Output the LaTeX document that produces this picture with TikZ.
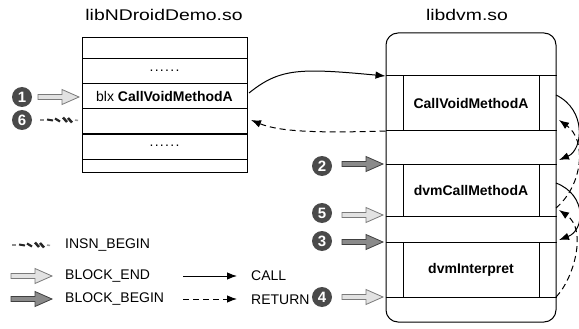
\documentclass[tikz,border=0pt]{standalone}
\usepackage{fontspec}
\setmainfont{Liberation Sans}
\newfontfamily\titlefont[FakeStretch=1.25]{Liberation Sans}
\usetikzlibrary{arrows.meta}
\definecolor{numgray}{HTML}{4A4A4A}
\definecolor{endfill}{HTML}{E2E2E2}
\definecolor{endline}{HTML}{7A7A7A}
\definecolor{beginfill}{HTML}{8A8A8A}
\definecolor{beginline}{HTML}{404040}
\tikzset{
  lbl/.style={font=\fontsize{14}{16}\selectfont, inner sep=0pt},
  titlelbl/.style={font=\titlefont\fontsize{15.5}{18}\selectfont, inner sep=0pt, anchor=base},
  rowbox/.style={draw, line width=1pt, minimum width=165pt, inner sep=0pt, outer sep=0pt},
  blk/.style={draw, line width=1pt, minimum width=136pt, inner sep=0pt, outer sep=0pt, font=\fontsize{14}{16}\selectfont\bfseries},
  num/.style={circle, fill=numgray, text=white, minimum size=20pt, inner sep=0pt, font=\fontsize{15}{16}\selectfont\bfseries},
  callarr/.style={line width=1pt, -{Latex[length=10pt,width=7.5pt]}},
  retarr/.style={line width=1pt, dash pattern=on 6pt off 4pt, -{Latex[length=10pt,width=7.5pt]}},
  blockarr/.pic={
    \path[pic actions] (0,-2.5) -- (24,-2.5) -- (24,-7.5) -- (41,0) -- (24,7.5) -- (24,2.5) -- (0,2.5) -- cycle;
  },
  squig/.pic={
    \draw[line width=1.5pt, black!45] (0,0) -- (4,0);
    \draw[line width=2pt, black!85] (7,-0.5) -- (13,0.5);
    \draw[line width=2.2pt, black!85] (15,-1.5) -- (20,1.5);
    \draw[line width=2.5pt, black!85] (23,-2.5) -- (27,2);
    \draw[line width=2.5pt, black!85] (28,-2) -- (32,2.5);
    \draw[line width=1.5pt, black!40] (35,0) -- (38,0.5);
  },
  endarrow/.style={draw=endline, fill=endfill, line width=0.8pt},
  beginarrow/.style={draw=beginline, fill=beginfill, line width=0.8pt}
}
\begin{document}
\begin{tikzpicture}[x=1pt,y=-1pt]
\useasboundingbox[fill=white] (0,0) rectangle (579,329);

% titles
\node[titlelbl] (t1) at (164,21) {libNDroidDemo.so};
\node[titlelbl] (t2) at (467,21) {libdvm.so};

% left box rows
\node[rowbox, minimum height=21pt] (r1) at (164.5,48.5) {};
\node[rowbox, minimum height=25pt] (r2) at (164.5,71.5) {};
\node[rowbox, minimum height=25pt] (r3) at (164.5,96.5) {};
\node[rowbox, minimum height=25pt] (r4) at (164.5,121.5) {};
\node[rowbox, minimum height=25pt] (r5) at (164.5,146.5) {};
\node[rowbox, minimum height=13pt] (r6) at (164.5,165.5) {};
\node[lbl] (d1) at (164.5,71) {.\kern1.3pt.\kern1.3pt.\kern1.3pt.\kern1.3pt.\kern1.3pt.};
\node[lbl] (d2) at (164.5,146) {.\kern1.3pt.\kern1.3pt.\kern1.3pt.\kern1.3pt.\kern1.3pt.};
\node[lbl] (blx) at (164.5,96.5) {blx \textbf{CallVoidMethodA}};

% right box
\node[draw, line width=1pt, rounded corners=12pt, minimum width=170pt, minimum height=289pt, inner sep=0pt] (dvm) at (471,177.5) {};
\node[blk, minimum height=55pt] (b1) at (471,103.5) {CallVoidMethodA};
\node[blk, minimum height=52pt] (b2) at (471,190) {dvmCallMethodA};
\node[blk, minimum height=55pt] (b3) at (471,269.5) {dvmInterpret};
\foreach \b in {b1,b2,b3}{
  \draw[line width=1pt] (dvm.west |- \b.north) -- (dvm.east |- \b.north);
  \draw[line width=1pt] (dvm.west |- \b.south) -- (dvm.east |- \b.south);
}

% calls and returns between libraries
\draw[callarr] ([shift={(2,-3.5)}]r3.east) .. controls (280,68) and (300,68) .. (dvm.west |- b1.north);
\draw[retarr] (dvm.west |- b1.south) .. controls (320,133) and (280,132) .. ([shift={(4,-1.5)}]r4.east);

% calls and returns inside libdvm
\draw[callarr] ([shift={(17,-8.5)}]b1.east) .. controls (587,110) and (583,150) .. ([shift={(20,-4)}]b2.north east);
\draw[retarr] ([shift={(17,18)}]b2.east) .. controls (583,185) and (587,140) .. ([shift={(20,-11)}]b1.south east);
\draw[callarr] ([shift={(17,-7)}]b2.east) .. controls (587,195) and (585,230) .. ([shift={(20,-2)}]b3.north east);
\draw[retarr] ([shift={(17,0)}]b3.south east) .. controls (573,280) and (588,230) .. ([shift={(20,-6)}]b2.south east);

% numbered markers
\node[num] (n1) at (22,97) {1};
\pic[endarrow] at (38,97) {blockarr};
\node[num] (n6) at (22,120) {6};
\pic at (40,120) {squig};
\node[num] (n2) at (322,166) {2};
\pic[beginarrow] at (342,164) {blockarr};
\node[num] (n5) at (322,213) {5};
\pic[endarrow] at (342,215) {blockarr};
\node[num] (n3) at (322,241) {3};
\pic[beginarrow] at (342,242) {blockarr};
\node[num] (n4) at (322,297) {4};
\pic[endarrow] at (342,297) {blockarr};

% legend
\pic at (12,245) {squig};
\node[lbl, anchor=west] (lg1) at (65,245) {INSN\_BEGIN};
\pic[endarrow] at (11,276) {blockarr};
\node[lbl, anchor=west] (lg2) at (65,276) {BLOCK\_END};
\pic[beginarrow] at (11,299) {blockarr};
\node[lbl, anchor=west] (lg3) at (65,299) {BLOCK\_BEGIN};
\coordinate (cs) at (183,276);
\coordinate (ce) at (237,276);
\draw[callarr] (cs) -- (ce);
\node[lbl, anchor=west] (lg4) at (251,276) {CALL};
\coordinate (rs) at (183,299);
\coordinate (re) at (237,299);
\draw[retarr] (rs) -- (re);
\node[lbl, anchor=west] (lg5) at (251,300) {RETURN};
\end{tikzpicture}
\end{document}
